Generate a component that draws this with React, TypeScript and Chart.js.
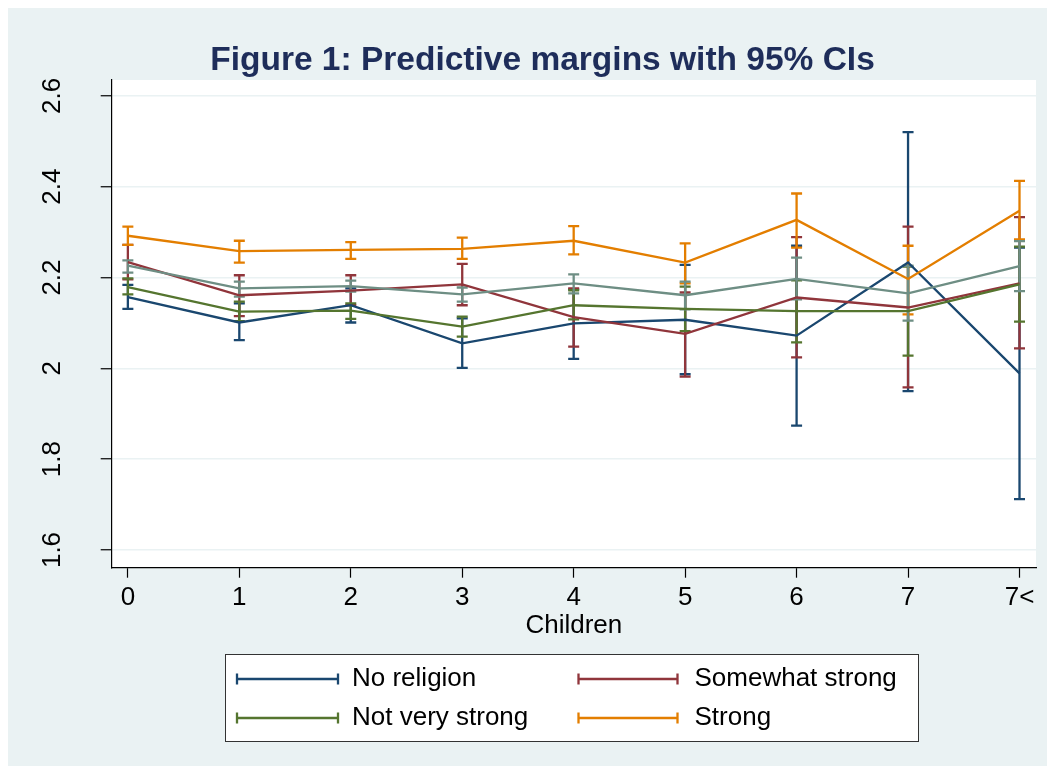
import { useEffect, useRef } from 'react';
import { Chart, registerables } from 'chart.js';

Chart.register(...registerables);

const categories = ['0', '1', '2', '3', '4', '5', '6', '7', '7<'];
const yTickValues = [1.6, 1.8, 2, 2.2, 2.4, 2.6];

const seriesNames = ['No religion', 'Somewhat strong', 'Not very strong', 'Strong', 'Very strong'];
const seriesColors = ['#1A476F', '#90353B', '#55752F', '#E37E00', '#6E8E84'];

const noReligion = [2.157, 2.101, 2.139, 2.055, 2.099, 2.107, 2.072, 2.233, 1.989];
const noReligionLo = [2.131, 2.062, 2.101, 2.001, 2.021, 1.987, 1.874, 1.950, 1.712];
const noReligionHi = [2.184, 2.143, 2.176, 2.110, 2.174, 2.228, 2.270, 2.520, 2.266];

const somewhatStrong = [2.234, 2.161, 2.171, 2.185, 2.113, 2.076, 2.156, 2.134, 2.187];
const somewhatStrongLo = [2.196, 2.115, 2.139, 2.139, 2.048, 1.982, 2.024, 1.958, 2.044];
const somewhatStrongHi = [2.272, 2.205, 2.205, 2.230, 2.176, 2.167, 2.289, 2.312, 2.333];

const notVeryStrong = [2.179, 2.125, 2.127, 2.092, 2.139, 2.131, 2.126, 2.126, 2.185];
const notVeryStrongLo = [2.163, 2.104, 2.109, 2.070, 2.108, 2.082, 2.057, 2.028, 2.103];
const notVeryStrongHi = [2.198, 2.147, 2.143, 2.114, 2.172, 2.180, 2.194, 2.224, 2.268];

const strong = [2.292, 2.258, 2.261, 2.263, 2.281, 2.233, 2.327, 2.197, 2.347];
const strongLo = [2.272, 2.233, 2.241, 2.241, 2.251, 2.187, 2.266, 2.119, 2.284];
const strongHi = [2.312, 2.281, 2.278, 2.288, 2.313, 2.275, 2.385, 2.270, 2.413];

const veryStrong = [2.226, 2.176, 2.181, 2.163, 2.187, 2.161, 2.197, 2.165, 2.225];
const veryStrongLo = [2.211, 2.158, 2.169, 2.147, 2.165, 2.130, 2.152, 2.105, 2.170];
const veryStrongHi = [2.238, 2.191, 2.193, 2.178, 2.207, 2.191, 2.244, 2.226, 2.280];

const seriesValues = [noReligion, somewhatStrong, notVeryStrong, strong, veryStrong];
const seriesLo = [noReligionLo, somewhatStrongLo, notVeryStrongLo, strongLo, veryStrongLo];
const seriesHi = [noReligionHi, somewhatStrongHi, notVeryStrongHi, strongHi, veryStrongHi];

const legendItems = [0, 1, 2, 3]; // series shown in legend, row-wise two columns

const titleText = 'Figure 1: Predictive margins with 95% CIs';
const xTitleText = 'Children';

const FONT = '"Liberation Sans", Arial, Helvetica, sans-serif';
const BG = '#EAF2F3';
const TEXT_SIZE = 26;
const LINE_W = 2.3;

const W = 1040;
const H = 758;

export default function App() {
  const ref = useRef<HTMLCanvasElement | null>(null);

  useEffect(() => {
    const canvas = ref.current;
    if (!canvas) return;

    const bgPlugin = {
      id: 'bgPlugin',
      beforeDraw(chart: any) {
        const { ctx, chartArea } = chart;
        ctx.save();
        ctx.fillStyle = BG;
        ctx.fillRect(0, 0, chart.width, chart.height);
        ctx.fillStyle = '#FFFFFF';
        ctx.fillRect(chartArea.left, chartArea.top, chartArea.right - chartArea.left, chartArea.bottom - chartArea.top);
        ctx.restore();
      },
    };

    const errorBarPlugin = {
      id: 'errorBars',
      beforeDatasetsDraw(chart: any) {
        const { ctx } = chart;
        const xs = chart.scales.x;
        const ys = chart.scales.y;
        ctx.save();
        ctx.lineWidth = LINE_W;
        ctx.lineCap = 'butt';
        seriesValues.forEach((_, s) => {
          ctx.strokeStyle = seriesColors[s];
          const lo = seriesLo[s];
          const hi = seriesHi[s];
          for (let i = 0; i < lo.length; i++) {
            const px = xs.getPixelForValue(i);
            const y1 = ys.getPixelForValue(lo[i]);
            const y2 = ys.getPixelForValue(hi[i]);
            ctx.beginPath();
            ctx.moveTo(px, y1);
            ctx.lineTo(px, y2);
            ctx.moveTo(px - 5.5, y1);
            ctx.lineTo(px + 5.5, y1);
            ctx.moveTo(px - 5.5, y2);
            ctx.lineTo(px + 5.5, y2);
            ctx.stroke();
          }
        });
        ctx.restore();
      },
    };

    const textPlugin = {
      id: 'textPlugin',
      afterDraw(chart: any) {
        const { ctx, chartArea } = chart;
        const ys = chart.scales.y;
        ctx.save();
        // Title
        ctx.fillStyle = '#1E2D5A';
        ctx.font = `bold 33.5px ${FONT}`;
        ctx.textAlign = 'center';
        ctx.textBaseline = 'middle';
        ctx.fillText(titleText, 534.5, 53);

        // Y tick labels (rotated)
        ctx.fillStyle = '#000000';
        ctx.font = `${TEXT_SIZE}px ${FONT}`;
        ys.ticks.forEach((t: any) => {
          const py = ys.getPixelForValue(t.value);
          ctx.save();
          ctx.translate(45, py);
          ctx.rotate(-Math.PI / 2);
          ctx.textAlign = 'center';
          ctx.textBaseline = 'middle';
          ctx.fillText(String(t.value), 0, 0);
          ctx.restore();
        });

        // X axis title
        ctx.textAlign = 'center';
        ctx.textBaseline = 'middle';
        ctx.fillText(xTitleText, (chartArea.left + chartArea.right) / 2, 618);

        // Legend
        const boxL = 217.5, boxT = 646.5, boxR = 910.5, boxB = 733.5;
        ctx.fillStyle = '#FFFFFF';
        ctx.fillRect(boxL, boxT, boxR - boxL, boxB - boxT);
        ctx.strokeStyle = '#333333';
        ctx.lineWidth = 1;
        ctx.strokeRect(boxL, boxT, boxR - boxL, boxB - boxT);

        const rowsY = [671, 710];
        const colLine = [[229, 330], [570.5, 669.5]];
        const colText = [344, 686.5];
        legendItems.forEach((s, k) => {
          const row = Math.floor(k / 2);
          const col = k % 2;
          const y = rowsY[row];
          const [x1, x2] = colLine[col];
          ctx.strokeStyle = seriesColors[s];
          ctx.lineWidth = LINE_W;
          ctx.beginPath();
          ctx.moveTo(x1, y);
          ctx.lineTo(x2, y);
          ctx.moveTo(x1, y - 5.5);
          ctx.lineTo(x1, y + 5.5);
          ctx.moveTo(x2, y - 5.5);
          ctx.lineTo(x2, y + 5.5);
          ctx.stroke();
          ctx.fillStyle = '#000000';
          ctx.font = `${TEXT_SIZE}px ${FONT}`;
          ctx.textAlign = 'left';
          ctx.textBaseline = 'middle';
          ctx.fillText(seriesNames[s], colText[col], y);
        });
        ctx.restore();
      },
    };

    const datasets = seriesValues.map((vals, s) => ({
      label: seriesNames[s],
      data: vals.map((v, i) => ({ x: i, y: v })),
      borderColor: seriesColors[s],
      backgroundColor: seriesColors[s],
      borderWidth: LINE_W,
      pointRadius: 0,
      tension: 0,
      fill: false,
      order: seriesValues.length - s,
    }));

    const chart = new Chart(canvas, {
      type: 'line',
      data: { datasets },
      options: {
        animation: false,
        responsive: false,
        maintainAspectRatio: false,
        devicePixelRatio: 1,
        events: [],
        layout: { padding: { top: 72, right: 12, left: 0, bottom: 0 } },
        plugins: {
          legend: { display: false },
          title: { display: false },
          tooltip: { enabled: false },
        },
        scales: {
          x: {
            type: 'linear',
            min: -0.145,
            max: 8.148,
            afterBuildTicks: (scale: any) => {
              scale.ticks = categories.map((_, i) => ({ value: i }));
            },
            afterFit: (scale: any) => {
              scale.height = 198.3;
            },
            ticks: {
              autoSkip: false,
              maxRotation: 0,
              minRotation: 0,
              padding: 5,
              color: '#000000',
              font: { family: FONT, size: TEXT_SIZE },
              callback: (v: any) => categories[Math.round(Number(v))] ?? '',
            },
            grid: {
              drawOnChartArea: false,
              drawTicks: true,
              tickLength: 10,
              tickColor: '#000000',
              tickWidth: 1.2,
            },
            border: { display: true, color: '#000000', width: 1.2 },
          },
          y: {
            type: 'linear',
            min: 1.561,
            max: 2.635,
            afterBuildTicks: (scale: any) => {
              scale.ticks = yTickValues.map((v) => ({ value: v }));
            },
            afterFit: (scale: any) => {
              scale.width = 103.7;
            },
            ticks: { display: false },
            grid: {
              color: BG,
              lineWidth: 1.5,
              drawTicks: true,
              tickLength: 11,
              tickColor: '#000000',
              tickWidth: 1.2,
            },
            border: { display: true, color: '#000000', width: 1.2 },
          },
        },
      },
      plugins: [bgPlugin, errorBarPlugin, textPlugin],
    });

    return () => {
      chart.destroy();
    };
  }, []);

  return (
    <div style={{ width: W, height: H }}>
      <canvas ref={ref} width={W} height={H} style={{ width: `${W}px`, height: `${H}px`, display: 'block' }} />
    </div>
  );
}
